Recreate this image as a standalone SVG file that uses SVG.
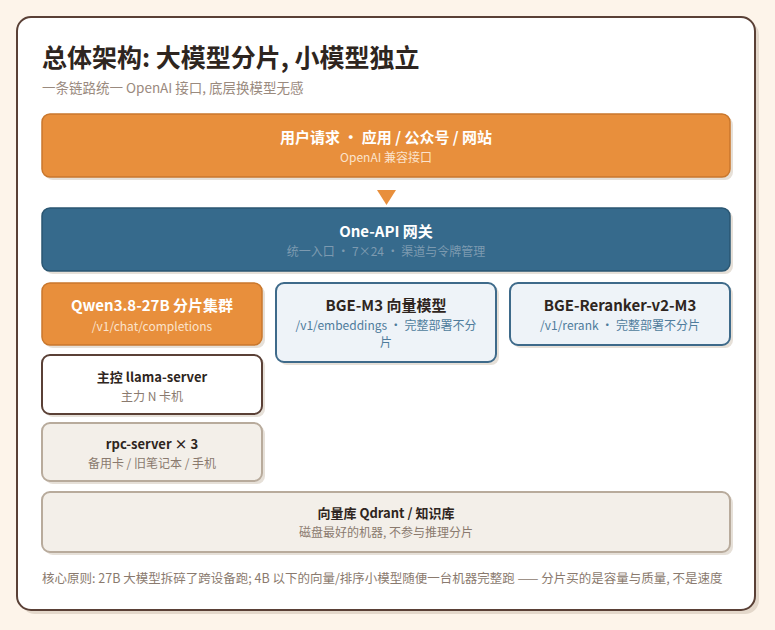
<svg xmlns="http://www.w3.org/2000/svg" width="775" height="630" viewBox="0 0 775 630">
<style>
text{font-family:"Noto Sans CJK SC","Noto Sans",sans-serif}
.t{font-size:15px;font-weight:700;text-anchor:middle}
.ts{font-size:13px;font-weight:700;text-anchor:middle}
.s{font-size:12px;text-anchor:middle}
.sh{fill:#e6e0d8}
.or{fill:#e88f3c;stroke:#c9772c;stroke-width:1.5}
.bl{fill:#366a8c;stroke:#2a5672;stroke-width:1.5}
.lb{fill:#eef3f8;stroke:#3e6a8a;stroke-width:2}
.wh{fill:#ffffff;stroke:#5a4036;stroke-width:2}
.gy{fill:#f3efe9;stroke:#b8ab9c;stroke-width:2}
</style>
<rect width="775" height="630" fill="#fdf4ea"/>
<rect x="21" y="21" width="738" height="593" rx="14" fill="#e4d8cb"/>
<rect x="17" y="17" width="738" height="593" rx="14" fill="#ffffff" stroke="#5a4036" stroke-width="2"/>
<text x="42" y="67" font-size="25" font-weight="700" fill="#2e2520">总体架构: 大模型分片, 小模型独立</text>
<text x="42" y="93" font-size="13.5" fill="#9a8a7e">一条链路统一 OpenAI 接口, 底层换模型无感</text>
<g id="connectors">
<path d="M377 190 L396 190 L386.5 205 Z" fill="#e88f3c"/>
</g>
<g id="user">
<rect class="sh" x="45" y="117" width="688" height="63" rx="8"/>
<rect class="or" x="42" y="114" width="688" height="63" rx="8"/>
<text class="t" x="386" y="143" fill="#ffffff">用户请求 · 应用 / 公众号 / 网站</text>
<text class="s" x="386" y="162" fill="#fbe3cc">OpenAI 兼容接口</text>
</g>
<g id="oneapi">
<rect class="sh" x="45" y="211" width="688" height="63" rx="8"/>
<rect class="bl" x="42" y="208" width="688" height="63" rx="8"/>
<text class="t" x="386" y="237" fill="#ffffff">One-API 网关</text>
<text class="s" x="386" y="256" fill="#7d9ab0">统一入口 · 7×24 · 渠道与令牌管理</text>
</g>
<g id="qwen">
<rect class="sh" x="45" y="286" width="220" height="62" rx="8"/>
<rect class="or" x="42" y="283" width="220" height="62" rx="8"/>
<text class="t" x="152" y="311" fill="#ffffff">Qwen3.8-27B 分片集群</text>
<text class="s" x="152" y="331" fill="#fbe3cc">/v1/chat/completions</text>
</g>
<g id="bgem3">
<rect class="sh" x="279" y="286" width="220" height="79" rx="8"/>
<rect class="lb" x="276" y="283" width="220" height="79" rx="8"/>
<text class="t" x="386" y="311" fill="#2e2520">BGE-M3 向量模型</text>
<text class="s" x="386" y="330" fill="#4f7c9c">/v1/embeddings · 完整部署不分</text>
<text class="s" x="386" y="347" fill="#4f7c9c">片</text>
</g>
<g id="reranker">
<rect class="sh" x="513" y="286" width="220" height="62" rx="8"/>
<rect class="lb" x="510" y="283" width="220" height="62" rx="8"/>
<text class="t" x="620" y="311" fill="#2e2520">BGE-Reranker-v2-M3</text>
<text class="s" x="620" y="330" fill="#4f7c9c">/v1/rerank · 完整部署不分片</text>
</g>
<g id="master">
<rect class="sh" x="45" y="358" width="220" height="59" rx="8"/>
<rect class="wh" x="42" y="355" width="220" height="59" rx="8"/>
<text class="ts" x="152" y="382" fill="#2e2520">主控 llama-server</text>
<text class="s" x="152" y="401" fill="#8a7a6e">主力 N 卡机</text>
</g>
<g id="rpc">
<rect class="sh" x="45" y="426" width="220" height="58" rx="8"/>
<rect class="gy" x="42" y="423" width="220" height="58" rx="8"/>
<text class="ts" x="152" y="449" fill="#2e2520">rpc-server × 3</text>
<text class="s" x="152" y="468" fill="#8a7a6e">备用卡 / 旧笔记本 / 手机</text>
</g>
<g id="qdrant">
<rect class="sh" x="45" y="495" width="688" height="60" rx="8"/>
<rect class="gy" x="42" y="492" width="688" height="60" rx="8"/>
<text class="ts" x="386" y="518" fill="#2e2520">向量库 Qdrant / 知识库</text>
<text class="s" x="386" y="537" fill="#8a7a6e">磁盘最好的机器, 不参与推理分片</text>
</g>
<text x="42" y="583" font-size="12.5" fill="#8a7a6e">核心原则: 27B 大模型拆碎了跨设备跑; 4B 以下的向量/排序小模型随便一台机器完整跑 —— 分片买的是容量与质量, 不是速度</text>
</svg>
